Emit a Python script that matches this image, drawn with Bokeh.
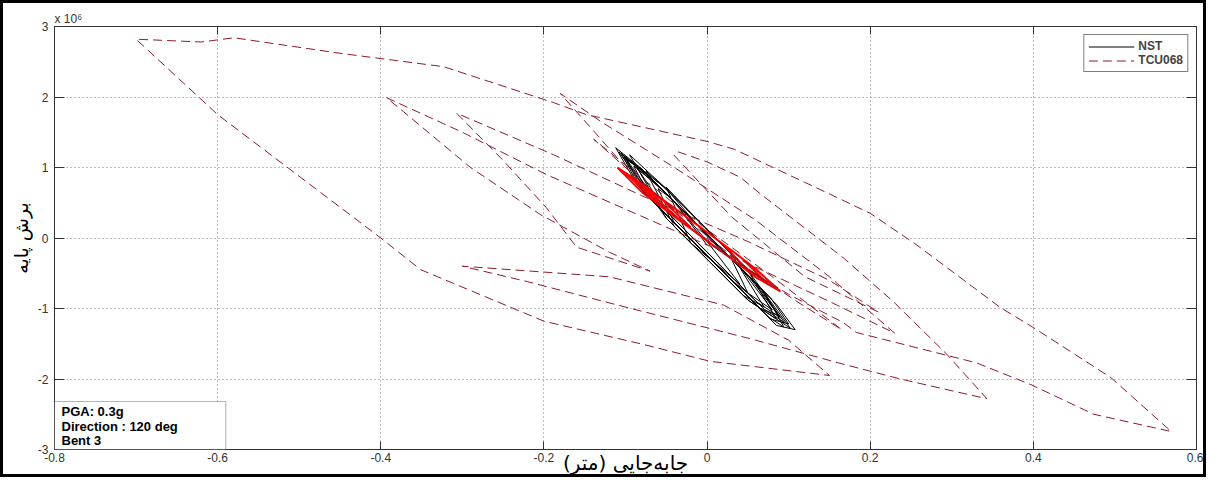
from bokeh.plotting import figure
from bokeh.models import (LinearAxis, Label, BoxAnnotation, Range1d, FixedTicker,
                          CustomJSTickFormatter)
from bokeh.embed import file_html
from bokeh.resources import INLINE

# ---------------- data (x: m, y: x10^6 N) ----------------
x_ticks = [-0.8, -0.6, -0.4, -0.2, 0, 0.2, 0.4, 0.6]
y_ticks = [-3, -2, -1, 0, 1, 2, 3]

nst_x = [0.000, -0.040, -0.080, -0.112, -0.085, -0.045, 0.000, 0.045, 0.075, 0.094,
         0.070, 0.035, -0.005, -0.045, -0.075, -0.100, -0.078, -0.040, 0.005, 0.050,
         0.085, 0.108, 0.085, 0.045, 0.005, -0.035, -0.065, -0.090, -0.068, -0.030,
         0.010, 0.048, 0.078, 0.100, 0.078, 0.040, 0.000, -0.040, -0.070, -0.105,
         -0.082, -0.042, 0.002, 0.040, 0.065, 0.088, 0.066, 0.030, -0.010, -0.045,
         -0.060, -0.040, -0.005, 0.030, 0.050, 0.030, 0.000,
         -0.050, -0.095, -0.050, 0.000, 0.050, 0.085, 0.050, 0.000, -0.050, -0.108,
         -0.050, 0.000, 0.050, 0.102, 0.050, 0.000, -0.040, -0.075, -0.040, 0.000,
         0.045, 0.070, 0.030, 0.000, -0.050, -0.020, 0.040, 0.000,
         -0.040, -0.080, -0.098, -0.060, -0.020, 0.030, 0.070, 0.095,
         0.060, 0.020, -0.030, -0.070, -0.102, -0.070, -0.030, 0.020, 0.060, 0.090,
         0.050, 0.000, -0.050, -0.085, -0.050, 0.000, 0.050, 0.080, 0.040, 0.000]
nst_y = [-0.10, 0.51, 0.98, 1.28, 0.74, 0.27, -0.25, -0.77, -1.12, -1.26,
         -0.76, -0.36, 0.11, 0.57, 0.92, 1.14, 0.65, 0.21, -0.31, -0.83,
         -1.24, -1.30, -0.94, -0.47, -0.01, 0.46, 0.80, 1.02, 0.54, 0.10,
         -0.37, -0.81, -1.15, -1.22, -0.85, -0.41, 0.05, 0.51, 0.86, 1.20,
         0.70, 0.24, -0.27, -0.71, -1.00, -1.10, -0.72, -0.30, 0.17, 0.57,
         0.70, 0.21, -0.19, -0.60, -0.78, -0.30, 0.02,
         0.70, 1.18, 0.28, -0.30, -0.88, -1.15, -0.46, 0.12, 0.70, 1.22,
         0.28, -0.30, -0.88, -1.28, -0.46, 0.12, 0.58, 0.95, 0.16, -0.30,
         -0.82, -0.98, -0.23, 0.12, 0.72, -0.07, -0.65, -0.05,
         0.51, 0.98, 1.10, 0.50, 0.03, -0.55, -1.01, -1.20,
         -0.65, -0.18, 0.40, 0.86, 1.15, 0.61, 0.15, -0.43, -0.90, -1.13,
         -0.53, 0.05, 0.63, 0.98, 0.38, -0.20, -0.78, -1.02, -0.41, 0.05]

tcu_x = [0.000, 0.040, 0.080, 0.030, -0.040, -0.100, -0.139, -0.080, 0.000, 0.080,
         0.165, 0.110, 0.020, -0.070, -0.130, -0.180, -0.130, -0.040, 0.060, 0.150,
         0.230, 0.150, 0.020, -0.197, -0.300, -0.393, -0.372, -0.290, -0.204, -0.120,
         -0.070, -0.160, -0.197, -0.250, -0.307, -0.188, -0.080, 0.050, 0.150, 0.210,
         0.120, 0.030, -0.041, -0.035, 0.000, 0.041, 0.066, 0.167, 0.229, 0.294,
         0.343, 0.237, 0.167, 0.050, -0.100, -0.220, -0.300, -0.120, 0.020, 0.100,
         0.150, 0.004, -0.078, -0.200, -0.229, -0.351, -0.400, -0.600, -0.700, -0.620,
         -0.580, -0.450, -0.323, -0.188, -0.148, 0.000, 0.033, 0.081, 0.151, 0.200,
         0.256, 0.360, 0.400, 0.495, 0.569, 0.474, 0.397, 0.330, 0.183, 0.167,
         0.100, 0.030, 0.000]
tcu_y = [0.00, -0.35, -0.70, -0.25, 0.40, 1.00, 1.40, 0.85, 0.12, -0.55,
         -1.30, -0.90, -0.20, 0.60, 1.40, 2.05, 1.65, 1.00, 0.25, -0.55,
         -1.35, -0.90, -0.20, 0.90, 1.50, 1.99, 1.79, 1.00, 0.33, -0.20,
         -0.47, -0.13, 0.43, 1.10, 1.77, 1.18, 0.60, -0.05, -0.60, -1.05,
         -0.55, 0.30, 1.18, 1.22, 1.08, 0.86, 0.62, -0.28, -0.91, -1.65,
         -2.28, -2.00, -1.79, -1.42, -0.98, -0.62, -0.40, -0.55, -0.95, -1.45,
         -1.95, -1.75, -1.51, -1.18, -1.04, -0.45, 0.00, 1.75, 2.82, 2.78,
         2.84, 2.62, 2.43, 1.92, 1.75, 1.37, 1.26, 1.00, 0.62, 0.35,
         -0.09, -0.99, -1.27, -1.98, -2.745, -2.50, -2.08, -1.77, -1.34, -1.20,
         -0.80, -0.30, -0.05]

red_x = [-0.020, -0.060, -0.090, -0.110, -0.080, -0.040, 0.000, 0.040, 0.085,
         0.050, 0.000, -0.050, -0.100, -0.060, -0.020, 0.020, 0.060, 0.090,
         0.060, 0.020, -0.030, -0.070, -0.090, -0.050, 0.000, 0.040, 0.070,
         0.040, 0.000, -0.040, -0.075, -0.030, 0.010, 0.050, 0.020, -0.010]
red_y = [0.15, 0.60, 0.85, 1.00, 0.65, 0.30, -0.04, -0.38, -0.70,
         -0.35, 0.08, 0.51, 0.92, 0.48, 0.13, -0.21, -0.56, -0.76,
         -0.44, -0.09, 0.34, 0.68, 0.84, 0.39, -0.04, -0.38, -0.60,
         -0.26, 0.08, 0.42, 0.70, 0.22, -0.13, -0.46, -0.09, 0.17]

series_names = ["NST", "TCU068"]
info_lines = ["PGA: 0.3g", "Direction : 120 deg", "Bent 3"]
x_title = "جابه\u200cجایی (متر)"
y_title = "برش پایه"
exp_text = "x 10\u2076"

# ---------------- figure ----------------
AX = "#333333"
TF = "Liberation Sans"

p = figure(width=1206, height=477, x_range=Range1d(-0.8, 0.6), y_range=Range1d(-3, 3),
           output_backend="svg", toolbar_location=None,
           min_border_left=51, min_border_right=13, min_border_top=23, min_border_bottom=31,
           styles={"border": "3px solid black"})
p.background_fill_color = "white"
p.border_fill_color = "white"
p.outline_line_color = AX

p.title.text = exp_text
p.title.text_font = TF
p.title.text_font_size = "12px"
p.title.text_font_style = "normal"
p.title.text_color = AX
p.title.align = "left"
p.title.offset = 0
p.title.standoff = 1

xt = FixedTicker(ticks=x_ticks)
yt = FixedTicker(ticks=y_ticks)

for ax in p.xaxis:
    ax.ticker = xt
    ax.formatter = CustomJSTickFormatter(code="return Math.abs(tick) < 1e-9 ? '0' : tick.toFixed(1);")
for ax in p.yaxis:
    ax.ticker = yt
    ax.formatter = CustomJSTickFormatter(code="return tick.toFixed(0);")

for ax in list(p.xaxis) + list(p.yaxis):
    ax.major_tick_out = 0
    ax.minor_tick_in = 0
    ax.minor_tick_out = 0
    ax.axis_line_color = AX
    ax.major_tick_line_color = AX
    ax.major_label_text_font = TF
    ax.major_label_text_font_size = "12px"
    ax.major_label_text_color = AX
    ax.axis_label_text_font = "DejaVu Sans"
    ax.axis_label_text_font_style = "normal"
    ax.axis_label_text_color = "black"
p.xaxis.axis_label_text_font_size = "20px"
p.yaxis.axis_label_text_font_size = "19px"
p.xaxis.major_tick_in = 8
p.yaxis.major_tick_in = 10
p.xaxis.major_label_standoff = 3
p.yaxis.major_label_standoff = 6
p.xaxis.axis_label = x_title
p.yaxis.axis_label = y_title
p.xaxis.axis_label_standoff = -14
p.yaxis.axis_label_standoff = 3

top = LinearAxis(ticker=xt, formatter=CustomJSTickFormatter(code="return '';"),
                 major_tick_in=8, major_tick_out=0, minor_tick_in=0, minor_tick_out=0,
                 major_label_standoff=0, major_label_text_font_size="0px",
                 axis_line_color=AX, major_tick_line_color=AX)
right = LinearAxis(ticker=yt, formatter=CustomJSTickFormatter(code="return '';"),
                   major_tick_in=10, major_tick_out=0, minor_tick_in=0, minor_tick_out=0,
                   major_label_standoff=0, major_label_text_font_size="0px",
                   axis_line_color=AX, major_tick_line_color=AX)
p.add_layout(top, "above")
p.add_layout(right, "right")

p.xgrid.ticker = xt
p.ygrid.ticker = yt
for g in (p.xgrid, p.ygrid):
    g.grid_line_color = "#7a7a7a"
    g.grid_line_dash = "1 3"
    g.grid_line_width = 1

# ---------------- lines ----------------
p.line(nst_x, nst_y, line_color="black", line_width=1, legend_label=series_names[0])
p.line(red_x, red_y, line_color="#ff0000", line_width=1.8)
p.line(tcu_x, tcu_y, line_color="#8a1c2b", line_width=1, line_dash="9 5",
       legend_label=series_names[1])

lg = p.legend[0]
lg.location = "top_right"
lg.margin = 8
lg.padding = 4
lg.spacing = 0
lg.glyph_width = 46
lg.glyph_height = 13
lg.label_height = 13
lg.label_standoff = 4
lg.label_text_font = TF
lg.label_text_font_size = "12px"
lg.label_text_font_style = "bold"
lg.border_line_color = "black"
lg.border_line_width = 1
lg.background_fill_color = "white"
lg.background_fill_alpha = 1

# ---------------- info box ----------------
p.add_layout(BoxAnnotation(left=-0.8, right=-0.59, bottom=-3, top=-2.32,
                           fill_color="white", fill_alpha=1,
                           line_color="black", line_width=1))
for i, t in enumerate(info_lines):
    p.add_layout(Label(x=-0.8, y=-2.32, x_offset=7, y_offset=-10 - 14.5 * i, text=t,
                       text_font=TF, text_font_size="13px", text_font_style="bold",
                       text_baseline="middle", text_color="black"))

open("out.html", "w").write(file_html(p, INLINE))
